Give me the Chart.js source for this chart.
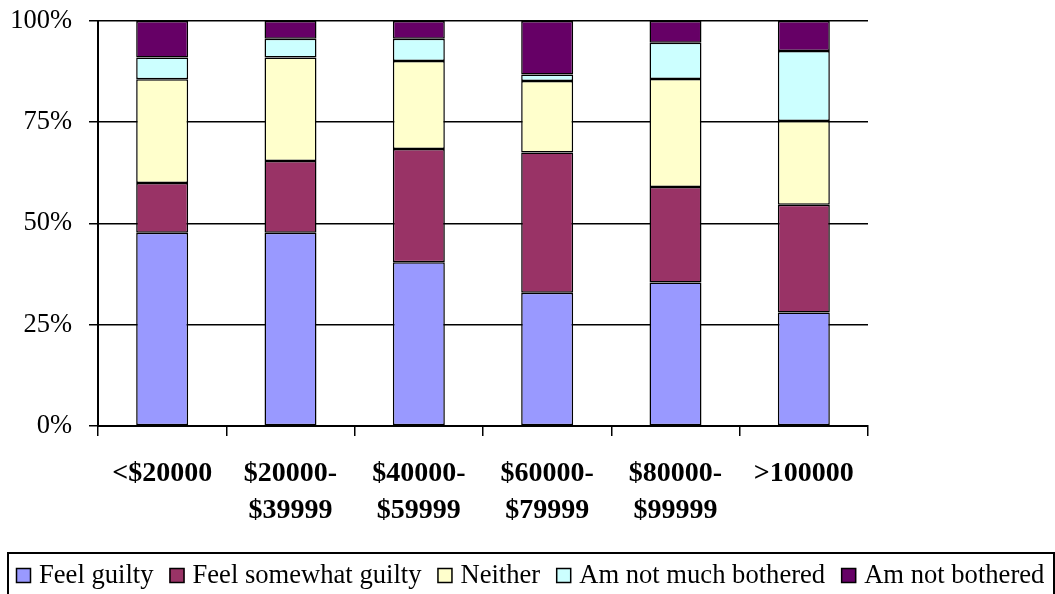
<!DOCTYPE html>
<html>
<head>
<meta charset="utf-8">
<script src="https://cdn.jsdelivr.net/npm/chart.js@4.4.1/dist/chart.umd.min.js"></script>
<style>
  body { margin: 0; background: #fff; }
  #wrap { width: 1055px; height: 594px; position: relative; }
</style>
</head>
<body>
<div id="wrap"><canvas id="guiltByIncome"></canvas></div>
<script>
// income brackets (x categories)
const categories = ['<$20000', ['$20000-', '$39999'], ['$40000-', '$59999'], ['$60000-', '$79999'], ['$80000-', '$99999'], '>100000'];

// share of respondents, %
const feelGuilty         = [47.7, 47.7, 40.4, 32.9, 35.4, 28.0];
const feelSomewhatGuilty = [12.3, 17.7, 28.0, 34.6, 23.6, 26.6];
const neither            = [25.6, 25.6, 21.7, 17.7, 26.7, 20.7];
const notMuchBothered    = [5.4, 4.6, 5.5, 1.6, 8.9, 17.3];
const notBothered        = [9.0, 4.4, 4.4, 13.2, 5.4, 7.4];

const seriesNames = ['Feel guilty', 'Feel somewhat guilty', 'Neither', 'Am not much bothered', 'Am not bothered'];
const seriesColors = ['#9999FF', '#993366', '#FFFFCC', '#CCFFFF', '#660066'];
const yTickStep = 25;

Chart.defaults.font.family = '"Liberation Serif", "Times New Roman", serif';
Chart.defaults.color = '#000';

// legend drawn in a box under the axis, like the original
const boxedLegend = {
  id: 'boxedLegend',
  afterDraw(chart) {
    const ctx = chart.ctx;
    ctx.save();
    ctx.strokeStyle = '#000';
    ctx.lineWidth = 2;
    ctx.strokeRect(8, 553, 1046, 60);
    ctx.font = '26.6px "Liberation Serif"';
    ctx.textBaseline = 'middle';
    ctx.lineWidth = 1.5;
    let x = 16;
    chart.data.datasets.forEach(ds => {
      ctx.fillStyle = ds.backgroundColor;
      ctx.fillRect(x, 568, 15, 15);
      ctx.strokeRect(x + 0.5, 568.5, 14, 14);
      ctx.fillStyle = '#000';
      ctx.fillText(ds.label, x + 23, 576);
      x += 23 + ctx.measureText(ds.label).width + 16;
    });
    ctx.restore();
  }
};

const seriesData = [feelGuilty, feelSomewhatGuilty, neither, notMuchBothered, notBothered];

new Chart(document.getElementById('guiltByIncome'), {
  type: 'bar',
  data: {
    labels: categories,
    datasets: seriesNames.map((name, i) => ({
      label: name,
      data: seriesData[i],
      backgroundColor: seriesColors[i],
      borderColor: '#000',
      borderWidth: 1.5,
      borderSkipped: false,
      barPercentage: 0.405,
      categoryPercentage: 1
    }))
  },
  options: {
    responsive: true,
    maintainAspectRatio: false,
    animation: false,
    devicePixelRatio: 1,
    layout: { padding: { top: 9, right: 187, left: 0, bottom: 0 } },
    plugins: {
      legend: { display: false },
      tooltip: { enabled: false }
    },
    scales: {
      x: {
        stacked: true,
        grid: { drawOnChartArea: false, drawTicks: true, tickLength: 10, color: '#000', lineWidth: 1.5, offset: true },
        border: { color: '#000', width: 2 },
        ticks: {
          font: { size: 28, weight: 'bold', lineHeight: 1.32 },
          color: '#000',
          maxRotation: 0,
          autoSkip: false,
          padding: 19
        },
        afterFit(scale) { scale.height = 168; }
      },
      y: {
        stacked: true,
        min: 0,
        max: 100,
        grid: { color: '#000', lineWidth: 1.5, tickLength: 9 },
        border: { color: '#000', width: 2 },
        ticks: {
          stepSize: yTickStep,
          font: { size: 26.5, lineHeight: 0.3 },
          color: '#000',
          padding: 17,
          callback: v => v + '%'
        },
        afterFit(scale) { scale.width = 98; }
      }
    }
  },
  plugins: [boxedLegend]
});
</script>
</body>
</html>
